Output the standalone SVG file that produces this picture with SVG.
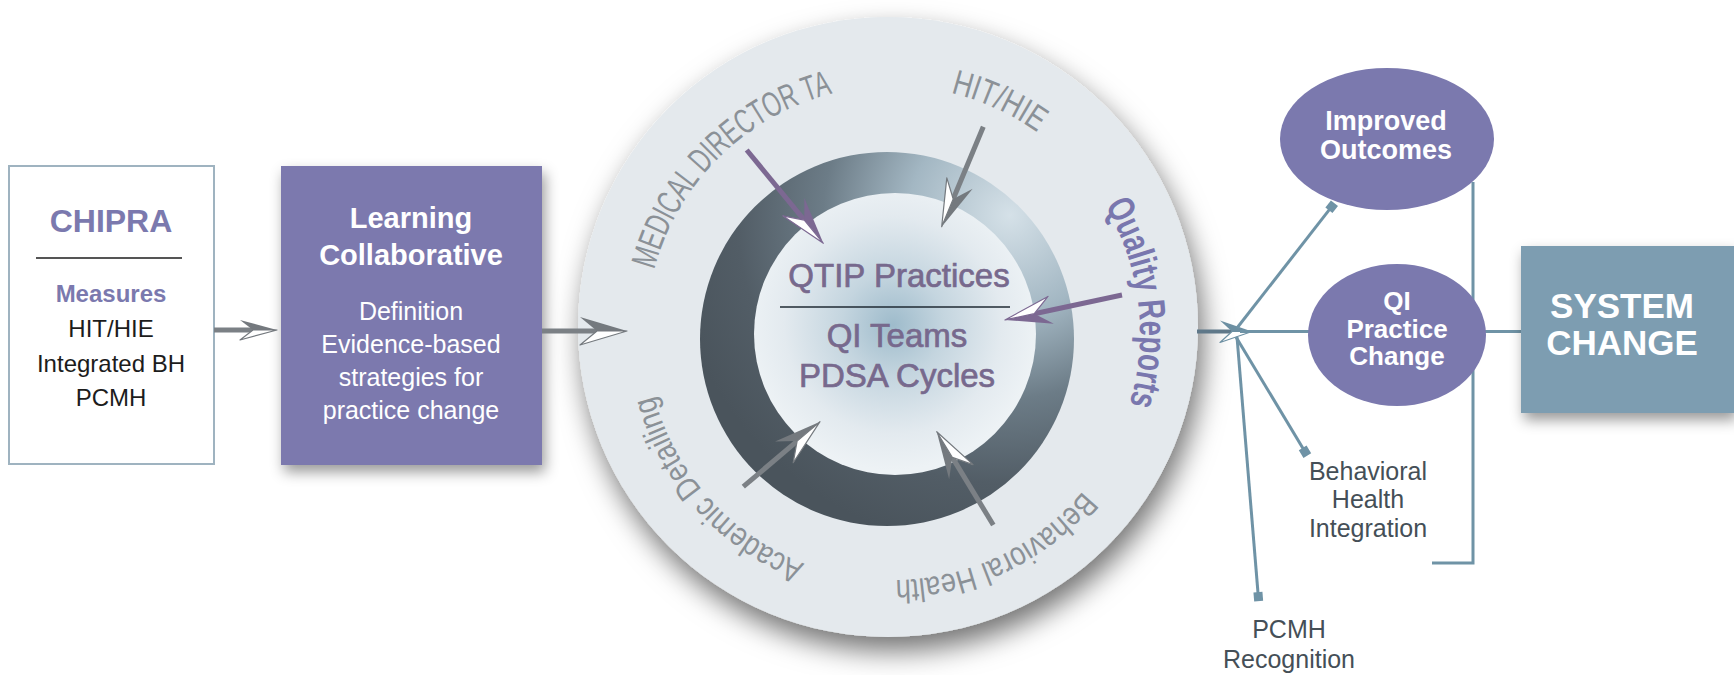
<svg xmlns="http://www.w3.org/2000/svg" width="1734" height="675" viewBox="0 0 1734 675">
<style>
  text { font-family: "Liberation Sans", Arial, sans-serif; }
  .b { font-weight: bold; }
  .purple { fill: #7b79ae; }
  .white { fill: #ffffff; }
  .blk { fill: #1c1c1c; }
  .mid { text-anchor: middle; }
  .center { fill: #77698d; stroke: #77698d; stroke-width: 0.7; font-size: 33px; text-anchor: middle; }
  .arc { fill: #8b9197; font-size: 33px; }
  .arccap { fill: #8b9197; font-size: 35px; }
  .arcq { fill: #7977ae; font-size: 38px; font-weight: bold; }
  .lbl { fill: #454f57; font-size: 25px; text-anchor: middle; }
  .garrow { stroke: #7b8085; stroke-width: 5; fill: none; }
  .parrow { stroke: #7c6892; stroke-width: 5; fill: none; }
  .steel { stroke: #6f93a6; stroke-width: 3; fill: none; }
</style>
<defs>
  <filter id="discShadow" x="-20%" y="-20%" width="140%" height="145%">
    <feDropShadow dx="5" dy="14" stdDeviation="14" flood-color="#000" flood-opacity="0.55"/>
  </filter>
  <filter id="boxShadow" x="-20%" y="-20%" width="140%" height="150%">
    <feDropShadow dx="3" dy="7" stdDeviation="7" flood-color="#000" flood-opacity="0.4"/>
  </filter>
  <radialGradient id="ringG" gradientUnits="userSpaceOnUse" cx="1000" cy="220" r="330" fx="1010" fy="215">
    <stop offset="0" stop-color="#d5e1e8"/>
    <stop offset="0.3" stop-color="#a3b7c3"/>
    <stop offset="0.55" stop-color="#6c7c87"/>
    <stop offset="0.8" stop-color="#525d66"/>
    <stop offset="1" stop-color="#4a545c"/>
  </radialGradient>
  <radialGradient id="innerG" gradientUnits="userSpaceOnUse" cx="893" cy="325" r="145">
    <stop offset="0" stop-color="#9ebbcb"/>
    <stop offset="0.35" stop-color="#c4d5df"/>
    <stop offset="0.75" stop-color="#e3eaef"/>
    <stop offset="1" stop-color="#edf2f5"/>
  </radialGradient>
  <marker id="ahGray" viewBox="0 0 47 28" refX="17" refY="14" markerWidth="47" markerHeight="28" orient="auto" markerUnits="userSpaceOnUse" overflow="visible">
    <path d="M47,14 L0,0 L17,14 Z" fill="#74797e"/>
    <path d="M47,14 L17,14 L0,28 Z" fill="#ffffff" stroke="#74797e" stroke-width="1.2" stroke-linejoin="round"/>
  </marker>
  <marker id="ahPurple" viewBox="0 0 47 28" refX="17" refY="14" markerWidth="47" markerHeight="28" orient="auto" markerUnits="userSpaceOnUse" overflow="visible">
    <path d="M47,14 L0,0 L17,14 Z" fill="#7c6892"/>
    <path d="M47,14 L17,14 L0,28 Z" fill="#ffffff" stroke="#7c6892" stroke-width="1.2" stroke-linejoin="round"/>
  </marker>
  <marker id="ahSmall" viewBox="0 0 37 20" refX="13" refY="10" markerWidth="37" markerHeight="20" orient="auto" markerUnits="userSpaceOnUse" overflow="visible">
    <path d="M37,10 L0,0 L13,10 Z" fill="#74797e"/>
    <path d="M37,10 L13,10 L0,20 Z" fill="#ffffff" stroke="#74797e" stroke-width="1.2" stroke-linejoin="round"/>
  </marker>
  <marker id="ahSteel" viewBox="0 0 32 22" refX="12" refY="11" markerWidth="32" markerHeight="22" orient="auto" markerUnits="userSpaceOnUse" overflow="visible">
    <path d="M32,11 L0,0 L12,11 Z" fill="#6c8fa2"/>
    <path d="M32,11 L12,11 L0,22 Z" fill="#ffffff" stroke="#6c8fa2" stroke-width="1.2" stroke-linejoin="round"/>
  </marker>
  <marker id="sq" viewBox="-5 -5 10 10" refX="0" refY="0" markerWidth="10" markerHeight="10" orient="auto" markerUnits="userSpaceOnUse">
    <rect x="-4.5" y="-4.5" width="9" height="9" fill="#6f93a6"/>
  </marker>
  <path id="tp" d="M646,333 A247,247 0 1 1 1140,333 A247,247 0 1 1 646,333" fill="none"/>
</defs>

<g id="chipra">
  <rect x="9" y="166" width="205" height="298" fill="#ffffff" stroke="#9fb3c0" stroke-width="2"/>
  <text x="111" y="232" class="b purple mid" font-size="32">CHIPRA</text>
  <line x1="36" y1="258" x2="182" y2="258" stroke="#1c1c1c" stroke-width="1.3"/>
  <text x="111" y="302" class="b purple mid" font-size="24">Measures</text>
  <text x="111" y="337" class="blk mid" font-size="24">HIT/HIE</text>
  <text x="111" y="372" class="blk mid" font-size="24">Integrated BH</text>
  <text x="111" y="406" class="blk mid" font-size="24">PCMH</text>
</g>

<g id="learning-collaborative">
  <rect x="281" y="166" width="261" height="299" fill="#7b79ae" filter="url(#boxShadow)"/>
  <text x="411" y="228" class="b white mid" font-size="29">Learning</text>
  <text x="411" y="265" class="b white mid" font-size="29">Collaborative</text>
  <text x="411" y="320" class="white mid" font-size="25">Definition</text>
  <text x="411" y="353" class="white mid" font-size="25">Evidence-based</text>
  <text x="411" y="386" class="white mid" font-size="25">strategies for</text>
  <text x="411" y="419" class="white mid" font-size="25">practice change</text>
</g>

<g id="outer-disc">
  <circle cx="888" cy="327" r="310" fill="#e4e9ed" filter="url(#discShadow)"/>
</g>

<g id="label-medical-director">
  <text class="arccap"><textPath href="#tp" startOffset="64" textLength="263" lengthAdjust="spacingAndGlyphs">MEDICAL DIRECTOR TA</textPath></text>
</g>
<g id="label-hit-hie">
  <text class="arccap"><textPath href="#tp" startOffset="446" textLength="96" lengthAdjust="spacingAndGlyphs">HIT/HIE</textPath></text>
</g>
<g id="label-quality-reports">
  <text class="arcq"><textPath href="#tp" startOffset="642" textLength="206" lengthAdjust="spacingAndGlyphs">Quality Reports</textPath></text>
</g>
<g id="label-behavioral-health">
  <text class="arc"><textPath href="#tp" startOffset="947" textLength="214" lengthAdjust="spacingAndGlyphs">Behavioral Health</textPath></text>
</g>
<g id="label-academic-detailing">
  <text class="arc"><textPath href="#tp" startOffset="1254" textLength="234" lengthAdjust="spacingAndGlyphs">Academic Detailing</textPath></text>
</g>

<g id="qtip-ring">
  <circle cx="887" cy="339" r="187" fill="url(#ringG)"/>
  <circle cx="895" cy="334" r="141" fill="url(#innerG)"/>
  <text x="899" y="287" class="center">QTIP Practices</text>
  <line x1="780" y1="307" x2="1010" y2="307" stroke="#1f2a33" stroke-width="1.6"/>
  <text x="897" y="347" class="center">QI Teams</text>
  <text x="897" y="387" class="center">PDSA Cycles</text>
</g>

<g id="connectors">
  <line x1="214" y1="330" x2="253" y2="330" class="garrow" stroke-width="4" marker-end="url(#ahSmall)"/>
  <line x1="542" y1="331" x2="597" y2="331" class="garrow" marker-end="url(#ahGray)"/>
  <line x1="746.7" y1="150" x2="804.3" y2="220.1" class="parrow" marker-end="url(#ahPurple)"/>
  <line x1="983.3" y1="126.7" x2="953.2" y2="199" class="garrow" marker-end="url(#ahGray)"/>
  <line x1="1122" y1="295" x2="1034.3" y2="313.7" class="parrow" marker-end="url(#ahPurple)"/>
  <line x1="743.3" y1="486.7" x2="797.1" y2="441.1" class="garrow" marker-end="url(#ahGray)"/>
  <line x1="993.3" y1="525" x2="952.3" y2="457.4" class="garrow" marker-end="url(#ahGray)"/>
  <line x1="1197" y1="331.5" x2="1232" y2="331.5" stroke="#5f7889" stroke-width="4" marker-end="url(#ahSteel)"/>
  <line x1="1240" y1="331.5" x2="1521" y2="331.5" class="steel"/>
  <line x1="1237" y1="328" x2="1331.7" y2="206.7" class="steel" marker-end="url(#sq)"/>
  <line x1="1236" y1="337" x2="1305" y2="451.7" class="steel" marker-end="url(#sq)"/>
  <line x1="1237" y1="337" x2="1258.3" y2="596.7" class="steel" marker-end="url(#sq)"/>
  <polyline points="1473,182 1473,563 1432,563" class="steel"/>
</g>

<g id="improved-outcomes">
  <ellipse cx="1387" cy="139" rx="107" ry="71" fill="#7b79ae"/>
  <text x="1386" y="130" class="b white mid" font-size="27">Improved</text>
  <text x="1386" y="159" class="b white mid" font-size="27">Outcomes</text>
</g>

<g id="qi-practice-change">
  <ellipse cx="1397" cy="335" rx="89" ry="71" fill="#7b79ae"/>
  <text x="1397" y="310" class="b white mid" font-size="26">QI</text>
  <text x="1397" y="338" class="b white mid" font-size="26">Practice</text>
  <text x="1397" y="365" class="b white mid" font-size="26">Change</text>
</g>

<g id="system-change">
  <rect x="1521" y="246" width="213" height="167" fill="#7d9db1" filter="url(#boxShadow)"/>
  <text x="1622" y="318" class="b white mid" font-size="35">SYSTEM</text>
  <text x="1622" y="355" class="b white mid" font-size="35">CHANGE</text>
</g>

<g id="behavioral-health-integration">
  <text x="1368" y="480" class="lbl">Behavioral</text>
  <text x="1368" y="508" class="lbl">Health</text>
  <text x="1368" y="537" class="lbl">Integration</text>
</g>

<g id="pcmh-recognition">
  <text x="1289" y="638" class="lbl">PCMH</text>
  <text x="1289" y="668" class="lbl">Recognition</text>
</g>
</svg>
